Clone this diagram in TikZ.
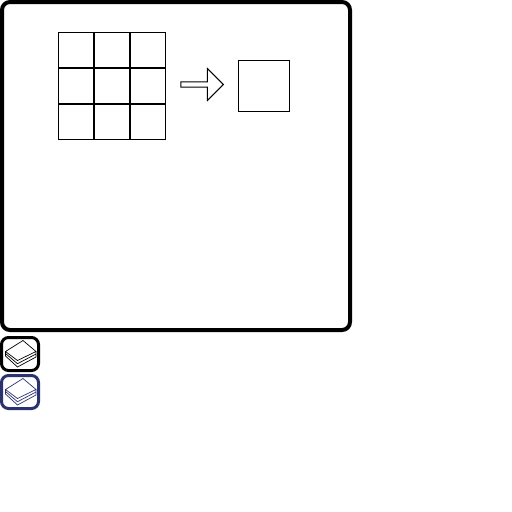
\documentclass[tikz,border=0pt]{standalone}
\usetikzlibrary{shapes.arrows}
\definecolor{iconblue}{HTML}{2B3270}
\begin{document}
\begin{tikzpicture}[x=1pt, y=-1pt, line width=1pt]
    \tikzstyle{frame} = [draw, black, line width=4pt, rounded corners=8pt]
    \tikzstyle{cell} = [draw, black, line width=1pt, minimum size=35pt, inner sep=0pt, outer sep=0pt]
    \tikzstyle{blk} = [draw, black, line width=1pt, inner sep=0pt, outer sep=0pt]
    \tikzstyle{button} = [line width=3pt, rounded corners=7pt]

    \useasboundingbox (0, 0) rectangle (512, 512);
    \draw[frame] (2, 2) rectangle (350, 330);

    % input cells
    \foreach \row in {0, 1, 2} {
        \foreach \col in {0, 1, 2} {
            \node[cell] (cell\row\col) at (76 + 36 * \col, 50 + 36 * \row) {};
        }
    }

    \node[blk, single arrow, inner ysep=2.2pt, minimum height=42.5pt, minimum width=31pt, single arrow head extend=13.3pt, single arrow head indent=0pt] (arrow) at (200.7, 84.5) {};
    \node[blk, minimum size=51pt] (result) at (264, 85.5) {};

    % buttons
    \foreach \name/\shift/\col in {plain/0/black, active/38/iconblue} {
        \begin{scope}[yshift=-\shift pt, draw=\col, line width=0.7pt]
            \draw[button] (1.5, 337.5) rectangle (38.5, 370.5);
            \draw (23, 340.5) -- (5.5, 351.5) -- (17.5, 360.5) -- (36, 351.5) -- cycle;
            \draw (5.5, 351.5) -- (5.5, 356) -- (17.5, 367) -- (36, 357) -- (36, 351.5);
            \draw (5.5, 353.5) -- (17.5, 363.7) -- (36, 354);
        \end{scope}
    }
\end{tikzpicture}
\end{document}
